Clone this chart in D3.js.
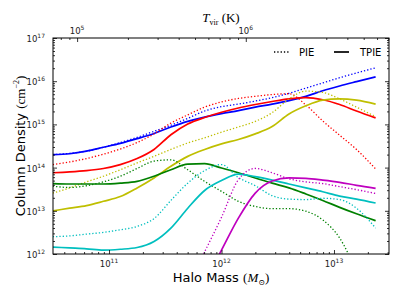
<!DOCTYPE html>
<html>
<head>
<meta charset="utf-8">
<script src="https://cdn.jsdelivr.net/npm/d3@7"></script>
<style>
body { margin: 0; background: #fff; }
svg { display: block; font-family: "DejaVu Sans", sans-serif; }
.serif { font-family: "Liberation Serif", "DejaVu Serif", serif; }
</style>
</head>
<body>
<div class="chart"></div>
<script>
// halo mass grid (log10 Msun) and column densities (log10 cm^-2)
const logMass = [10.5,10.65,10.8,10.95,11.1,11.25,11.4,11.55,11.7,11.85,12.0,12.15,12.3,12.45,12.6,12.75,12.9,13.05,13.2,13.37];

const bluePIE    = [14.30,14.33,14.38,14.47,14.58,14.70,14.84,14.98,15.14,15.31,15.41,15.47,15.54,15.62,15.72,15.84,15.96,16.08,16.19,16.31];
const blueTPIE   = [14.30,14.32,14.38,14.47,14.56,14.67,14.79,14.94,15.07,15.17,15.25,15.32,15.40,15.47,15.55,15.65,15.78,15.89,15.99,16.10];
const redPIE     = [14.07,14.13,14.21,14.31,14.43,14.58,14.78,15.03,15.22,15.40,15.52,15.60,15.65,15.69,15.71,15.45,15.08,14.75,14.42,13.97];
const redTPIE    = [13.88,13.90,13.93,13.98,14.07,14.21,14.42,14.76,15.01,15.16,15.28,15.38,15.46,15.53,15.59,15.62,15.57,15.46,15.31,15.15];
const yellowPIE  = [13.41,13.53,13.67,13.80,13.95,14.11,14.26,14.42,14.57,14.69,14.82,14.94,15.07,15.27,15.59,15.77,15.74,15.59,15.40,15.18];
const yellowTPIE = [13.00,13.06,13.12,13.22,13.33,13.53,13.76,14.03,14.26,14.42,14.55,14.65,14.78,14.95,15.24,15.43,15.56,15.59,15.56,15.47];
const greenPIE   = [13.57,13.54,13.58,13.67,13.80,13.98,14.15,14.18,13.95,13.68,13.45,13.22,13.10,13.05,13.05,12.99,12.79,12.37,11.60,null];
const greenTPIE  = [13.63,13.62,13.62,13.62,13.64,13.68,13.80,13.95,14.08,14.09,13.99,13.88,13.76,13.64,13.53,13.39,13.24,13.08,12.93,12.77];
const cyanPIE    = [12.40,12.42,12.46,12.50,12.56,12.64,12.82,13.24,13.64,13.93,14.07,13.77,13.58,13.35,13.27,13.26,13.29,13.26,13.06,12.60];
const cyanTPIE   = [12.16,12.14,12.12,12.09,12.11,12.15,12.29,12.60,13.06,13.47,13.70,13.85,13.79,13.71,13.62,13.53,13.44,13.34,13.27,13.18];
const magentaPIE = [null,null,null,null,null,null,null,null,11.25,12.05,12.85,13.72,13.98,13.88,13.74,13.67,13.63,13.56,13.49,13.40];
const magentaTPIE= [null,null,null,null,null,null,null,null,null,11.35,12.09,12.83,13.41,13.69,13.76,13.75,13.71,13.66,13.59,13.52];

const legendLabels = ['PIE', 'TPIE'];

const series = [
    {values: bluePIE, color: '#0000ff', dotted: true},
    {values: blueTPIE, color: '#0000ff', dotted: false},
    {values: redPIE, color: '#ff0000', dotted: true},
    {values: redTPIE, color: '#ff0000', dotted: false},
    {values: yellowPIE, color: '#bfbf00', dotted: true},
    {values: yellowTPIE, color: '#bfbf00', dotted: false},
    {values: greenPIE, color: '#008000', dotted: true},
    {values: greenTPIE, color: '#008000', dotted: false},
    {values: cyanPIE, color: '#00bfbf', dotted: true},
    {values: cyanTPIE, color: '#00bfbf', dotted: false},
    {values: magentaPIE, color: '#bf00bf', dotted: true},
    {values: magentaTPIE, color: '#bf00bf', dotted: false}
];

const svgwidth = 399;
const svgheight = 299;
const plotLeft = 53, plotRight = 389, plotTop = 38, plotBottom = 254;

const svg = d3.select('.chart').append('svg')
    .attr('width', svgwidth)
    .attr('height', svgheight);

const x = d3.scaleLog().domain([10 ** 10.502, 10 ** 13.489]).range([plotLeft, plotRight]);
const y = d3.scaleLog().domain([1e12, 1e17]).range([plotBottom, plotTop]);
// virial temperature on the top axis, T ~ M^(2/3)
const t = d3.scaleLog().domain([10 ** 4.857, 10 ** 6.849]).range([plotLeft, plotRight]);

svg.append('clipPath').attr('id', 'plot')
    .append('rect')
    .attr('x', plotLeft).attr('y', plotTop)
    .attr('width', plotRight - plotLeft).attr('height', plotBottom - plotTop);

const line = d3.line()
    .defined(d => d[1] != null)
    .x(d => x(10 ** d[0]))
    .y(d => y(10 ** d[1]))
    .curve(d3.curveMonotoneX);

svg.append('g')
    .attr('clip-path', 'url(#plot)')
    .selectAll('path')
    .data(series)
    .enter()
    .append('path')
    .attr('d', s => line(logMass.map((m, i) => [m, s.values[i]])))
    .attr('fill', 'none')
    .attr('stroke', s => s.color)
    .attr('stroke-width', s => s.dotted ? 1.3 : 1.7)
    .attr('stroke-dasharray', s => s.dotted ? '1.3,2' : null);

const isDecade = d => Math.abs(Math.log10(d) - Math.round(Math.log10(d))) < 1e-6;

function ticks(axis, scale, pos) {
    const all = scale.ticks();
    [[all.filter(isDecade), 4], [all.filter(d => !isDecade(d)), 2]].forEach(([vals, len]) => {
        svg.append('g')
            .attr('transform', pos)
            .call(axis(scale).tickValues(vals).tickSize(-len).tickSizeOuter(0).tickFormat(''))
            .call(g => g.select('.domain').remove())
            .selectAll('line').attr('stroke', '#000').attr('stroke-width', 0.8);
    });
}
ticks(d3.axisBottom, x, `translate(0,${plotBottom})`);
ticks(d3.axisTop, t, `translate(0,${plotTop})`);
ticks(d3.axisLeft, y, `translate(${plotLeft},0)`);
ticks(d3.axisRight, y, `translate(${plotRight},0)`);

svg.append('rect')
    .attr('x', plotLeft).attr('y', plotTop)
    .attr('width', plotRight - plotLeft).attr('height', plotBottom - plotTop)
    .attr('fill', 'none')
    .attr('stroke', '#000')
    .attr('stroke-width', 1);

function powLabel(sel) {
    sel.text('10')
        .attr('font-size', 8.5)
        .attr('fill', '#222')
        .append('tspan')
        .attr('dy', -4)
        .attr('font-size', 6)
        .text(d => Math.round(Math.log10(d)));
}

svg.selectAll('.xlab')
    .data(x.ticks().filter(isDecade))
    .enter()
    .append('text')
    .attr('x', d => x(d))
    .attr('y', 267)
    .attr('text-anchor', 'middle')
    .call(powLabel);

svg.selectAll('.tlab')
    .data(t.ticks().filter(isDecade))
    .enter()
    .append('text')
    .attr('x', d => t(d))
    .attr('y', 34)
    .attr('text-anchor', 'middle')
    .call(powLabel);

svg.selectAll('.ylab')
    .data(y.ticks().filter(isDecade))
    .enter()
    .append('text')
    .attr('x', 45)
    .attr('y', d => y(d) + 4)
    .attr('text-anchor', 'end')
    .call(powLabel);

// axis titles
const xt = svg.append('text')
    .attr('x', 221).attr('y', 282)
    .attr('text-anchor', 'middle')
    .attr('font-size', 13);
xt.append('tspan').text('Halo Mass ');
xt.append('tspan').attr('class', 'serif').text('(');
xt.append('tspan').attr('class', 'serif').attr('font-style', 'italic').text('M');
xt.append('tspan').attr('class', 'serif').attr('font-size', 8).attr('dy', 3).text('⊙');
xt.append('tspan').attr('class', 'serif').attr('dy', -3).text(')');

const yt = svg.append('text')
    .attr('transform', 'translate(25,146) rotate(-90)')
    .attr('text-anchor', 'middle')
    .attr('font-size', 13);
yt.append('tspan').text('Column Density ');
yt.append('tspan').attr('class', 'serif').text('(cm');
yt.append('tspan').attr('class', 'serif').attr('font-size', 8).attr('dy', -6).text('−2');
yt.append('tspan').attr('class', 'serif').attr('dy', 6).text(')');

const tt = svg.append('text')
    .attr('x', 221).attr('y', 22)
    .attr('text-anchor', 'middle')
    .attr('font-size', 13)
    .attr('class', 'serif');
tt.append('tspan').attr('font-style', 'italic').text('T');
tt.append('tspan').attr('font-size', 8).attr('dy', 3).text('vir');
tt.append('tspan').attr('dy', -3).text(' (K)');

// legend
const legend = svg.selectAll('.legend')
    .data(legendLabels)
    .enter()
    .append('g')
    .attr('transform', (d, i) => `translate(${274 + i * 60},52)`);
legend.append('line')
    .attr('x1', 0).attr('x2', 15)
    .attr('stroke', '#000')
    .attr('stroke-width', (d, i) => i ? 1.7 : 1.3)
    .attr('stroke-dasharray', (d, i) => i ? null : '1.3,2');
legend.append('text')
    .attr('x', (d, i) => i ? 26 : 25)
    .attr('y', 4)
    .attr('font-size', 10)
    .text(d => d);
</script>
</body>
</html>
